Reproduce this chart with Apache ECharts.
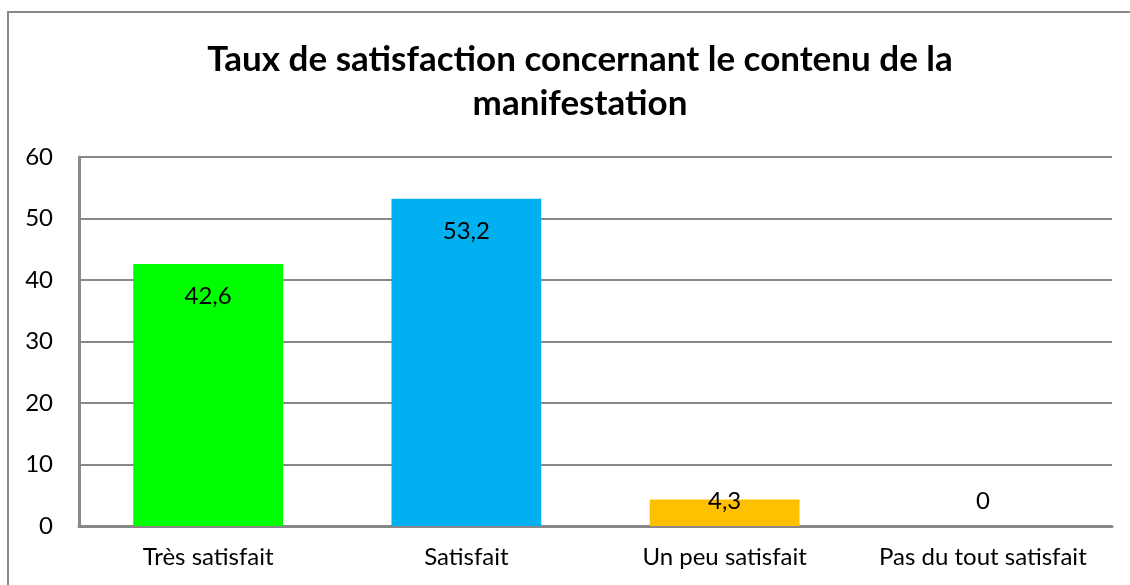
<!DOCTYPE html>
<html>
<head>
<meta charset="utf-8">
<script src="https://cdn.jsdelivr.net/npm/echarts@6/dist/echarts.min.js"></script>
<style>
html,body{margin:0;padding:0;background:#fff;}
#chart{width:1130px;height:585px;}
</style>
</head>
<body>
<div id="chart"></div>
<script>
const titleText = "Taux de satisfaction concernant le contenu de la\nmanifestation";
const categories = ["Très satisfait", "Satisfait", "Un peu satisfait", "Pas du tout satisfait"];
const values = [42.6, 53.2, 4.3, 0];
const barColors = ["#00FF00", "#00B0F0", "#FFC000", "#7F7F7F"];
const yTicks = [0, 10, 20, 30, 40, 50, 60];

const labelStyles = [
  { position: "insideTop", distance: 20 },
  { position: "insideTop", distance: 20 },
  { position: "top", distance: 5, offset: [0, 19] },
  { position: "top", distance: 5, offset: [0, -8] }
];

const chart = echarts.init(document.getElementById("chart"), null, { renderer: "canvas" });
const fontFam = "Lato, 'Open Sans', sans-serif";

chart.setOption({
  animation: false,
  backgroundColor: "#fff",
  graphic: [{
    type: "rect",
    shape: { x: 8, y: 12, width: 1140, height: 600 },
    style: { fill: "none", stroke: "#888", lineWidth: 2 },
    silent: true
  }],
  title: {
    text: titleText,
    left: 575,
    textAlign: "center",
    top: 33,
    textStyle: { fontFamily: fontFam, fontWeight: "bold", fontSize: 35, color: "#000", lineHeight: 44 }
  },
  grid: { left: 79, right: 18, top: 157, bottom: 59, containLabel: false },
  xAxis: {
    type: "category",
    data: categories,
    axisLine: { lineStyle: { color: "#888", width: 3 } },
    axisTick: { show: false },
    axisLabel: { interval: 0, fontFamily: fontFam, fontSize: 24, color: "#000", margin: 19 },
    splitLine: { show: false }
  },
  yAxis: {
    type: "value",
    min: yTicks[0],
    max: yTicks[yTicks.length - 1],
    interval: 10,
    axisLine: { show: true, lineStyle: { color: "#888", width: 3 } },
    axisTick: { show: false },
    axisLabel: { fontFamily: fontFam, fontSize: 24, color: "#000", margin: 26 },
    splitLine: { show: true, lineStyle: { color: "#888", width: 2 } }
  },
  series: [{
    type: "bar",
    barWidth: "58%",
    data: values.map((v, i) => ({
      value: v,
      itemStyle: { color: barColors[i] },
      label: labelStyles[i]
    })),
    label: {
      show: true,
      fontFamily: fontFam,
      fontSize: 24,
      color: "#000",
      formatter: p => String(p.value).replace(".", ",")
    }
  }]
});
</script>
</body>
</html>
